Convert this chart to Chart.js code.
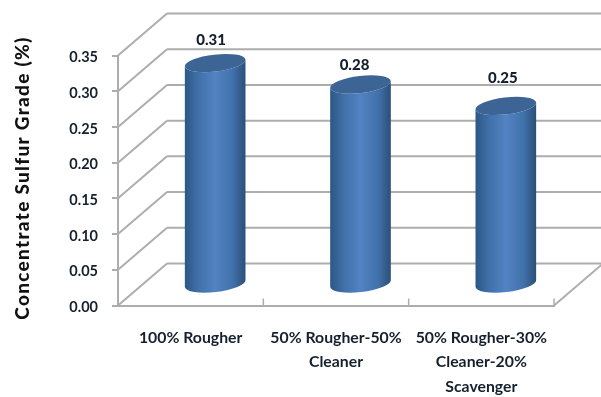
<!DOCTYPE html>
<html>
<head>
<meta charset="utf-8">
<style>
  html, body { margin: 0; padding: 0; background: #fff; }
  canvas { display: block; }
</style>
<script src="https://cdn.jsdelivr.net/npm/chart.js@4"></script>
</head>
<body>
<canvas id="gradeChart" width="601" height="397"></canvas>
<script>
//Chart data
const circuits = [['100% Rougher'], ['50% Rougher-50%', 'Cleaner'], ['50% Rougher-30%', 'Cleaner-20%', 'Scavenger']];
const sulfurGrade = [0.31, 0.28, 0.25];
const yTitle = 'Concentrate Sulfur Grade (%)';

//Box depth of the fake 3D walls
const DEPTH_X = 49;
const DEPTH_Y = -42;
const WALL_COLOR = '#adadad';
const TEXT_COLOR = '#15202e';
//Small shifts of the value labels above each cylinder
const labelShiftX = [-4, -6, -3];
const labelGapY = [23, 19, 28];

function line(ctx, x1, y1, x2, y2) {
  ctx.beginPath();
  ctx.moveTo(x1, y1);
  ctx.lineTo(x2, y2);
  ctx.stroke();
}

//Walls and floor, behind the bars
const walls = {
  id: 'walls',
  beforeDatasetsDraw(chart) {
    const { ctx, chartArea, scales } = chart;
    ctx.save();
    ctx.strokeStyle = WALL_COLOR;
    ctx.lineWidth = 2;
    scales.y.ticks.forEach((tick, i) => {
      const y = scales.y.getPixelForTick(i);
      line(ctx, chartArea.left, y, chartArea.left + DEPTH_X, y + DEPTH_Y);
      line(ctx, chartArea.left + DEPTH_X, y + DEPTH_Y, chart.width, y + DEPTH_Y);
    });
    //Floor edge on the right
    line(ctx, chartArea.right, chartArea.bottom, chartArea.right + DEPTH_X, chartArea.bottom + DEPTH_Y);
    //Category ticks stand on the floor
    const step = chartArea.width / circuits.length;
    ctx.lineWidth = 1.5;
    for (let i = 1; i <= circuits.length; i++) {
      const x = chartArea.left + step * i;
      line(ctx, x, chartArea.bottom - 7, x, chartArea.bottom);
    }
    ctx.restore();
  }
};

//Cylinders, value labels and the axis title
const cylinders = {
  id: 'cylinders',
  afterDatasetsDraw(chart) {
    const { ctx } = chart;
    const meta = chart.getDatasetMeta(0);
    meta.data.forEach((bar, i) => {
      const cx = bar.x + DEPTH_X / 2;
      const top = bar.y + DEPTH_Y / 2;
      const base = bar.base + DEPTH_Y / 2;
      const rx = bar.width / 2;
      const ry = 8.5;
      const tilt = -0.115;

      const body = ctx.createLinearGradient(cx - rx, 0, cx + rx, 0);
      body.addColorStop(0, '#2c5684');
      body.addColorStop(0.22, '#4070a8');
      body.addColorStop(0.5, '#5283c3');
      body.addColorStop(0.78, '#4272ac');
      body.addColorStop(1, '#2b4f78');

      ctx.save();
      ctx.fillStyle = body;
      ctx.beginPath();
      ctx.ellipse(cx, top, rx, ry, tilt, Math.PI, 0, true);
      ctx.ellipse(cx, base, rx, ry, tilt, 0, Math.PI);
      ctx.closePath();
      ctx.fill();
      ctx.fillStyle = '#3c6595';
      ctx.beginPath();
      ctx.ellipse(cx, top, rx, ry, tilt, 0, Math.PI * 2);
      ctx.fill();

      ctx.fillStyle = TEXT_COLOR;
      ctx.font = '900 15px Lato';
      ctx.textAlign = 'center';
      ctx.textBaseline = 'middle';
      ctx.fillText(sulfurGrade[i].toFixed(2), cx + labelShiftX[i], top - labelGapY[i]);
      ctx.restore();
    });

    ctx.save();
    ctx.translate(23, 178);
    ctx.rotate(-Math.PI / 2);
    ctx.fillStyle = '#111';
    ctx.font = '900 19px Lato';
    ctx.letterSpacing = '1.3px';
    ctx.textAlign = 'center';
    ctx.textBaseline = 'middle';
    ctx.fillText(yTitle, 0, 0);
    ctx.restore();
  }
};

new Chart(document.getElementById('gradeChart').getContext('2d'), {
  type: 'bar',
  data: {
    labels: circuits,
    datasets: [{
      data: sulfurGrade,
      backgroundColor: 'rgba(0,0,0,0)',
      barPercentage: 0.42,
      categoryPercentage: 1
    }]
  },
  options: {
    responsive: false,
    animation: false,
    layout: { padding: { top: 55.5, right: 47 } },
    plugins: {
      legend: { display: false },
      title: { display: false },
      tooltip: { enabled: false }
    },
    scales: {
      x: {
        afterFit: scale => { scale.height = 91.5; },
        grid: { display: false },
        border: { display: true, color: WALL_COLOR, width: 2 },
        ticks: {
          color: TEXT_COLOR,
          font: { family: 'Lato', size: 15.8, weight: '700', lineHeight: 1.55 },
          padding: 12,
          maxRotation: 0,
          autoSkip: false
        }
      },
      y: {
        min: 0,
        max: 0.35,
        afterFit: scale => { scale.width = 118; },
        grid: { drawOnChartArea: false, color: WALL_COLOR, lineWidth: 2, tickLength: 6 },
        border: { display: true, color: WALL_COLOR, width: 2 },
        ticks: {
          stepSize: 0.05,
          color: TEXT_COLOR,
          font: { family: 'Lato', size: 14.5, weight: '700' },
          padding: 14,
          labelOffset: 2,
          callback: value => value.toFixed(2)
        }
      }
    }
  },
  plugins: [walls, cylinders]
});
</script>
</body>
</html>
